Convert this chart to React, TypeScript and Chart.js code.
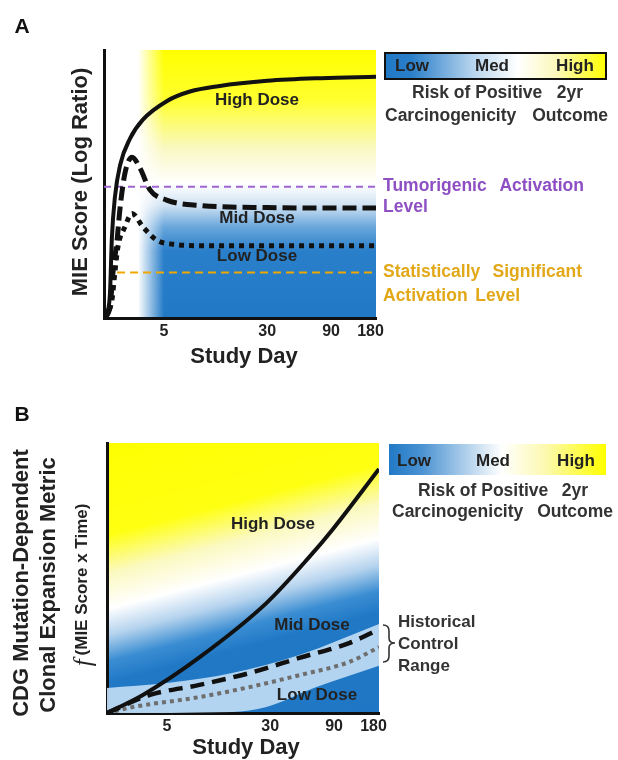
import React, { useEffect, useRef } from "react";
import { Chart, registerables } from "chart.js";
Chart.register(...registerables);

const FONT = '"Liberation Sans", Arial, Helvetica, sans-serif';

// shared x ticks (study day labels at their relative time positions)
const tickPositions = [22, 60, 83.5, 98];
const tickLabels = ["5", "30", "90", "180"];

// Panel A: MIE score curves
const aHighX = [0, 1.2, 2.2, 2.9, 4, 5.9, 9.6, 14.3, 23.2, 31.6, 42, 60, 80, 100];
const aHighY = [0, 2, 9.3, 30, 45, 57, 67, 74, 81, 84.5, 86.5, 88.5, 89.5, 90];
const aMidX = [0, 2.2, 3.3, 4.8, 5.9, 7.7, 10.3, 13.2, 16.9, 23, 35.3, 60, 100];
const aMidY = [0, 4, 17, 29, 41, 54, 60, 56, 47.8, 44, 42, 41.2, 41];
const aLowX = [0, 2.9, 4, 5.1, 7.7, 10.3, 14.3, 19.5, 25.4, 35.3, 60, 100];
const aLowY = [0, 6.7, 17, 26.5, 34, 39, 34, 29, 27.5, 27, 27, 27];
const tumorigenicLevel = 49;
const significantLevel = 17;
const tumorigenicX = [0, 100];
const significantX = [4.8, 100];

// Panel B: clonal expansion curves
const bHighX = [0, 13.2, 34.1, 58.6, 74.4, 82.8, 100];
const bHighY = [0, 6.7, 20.7, 40.7, 57.8, 67.8, 90.4];
const bMidX = [0, 15.8, 34, 52.4, 70.7, 89, 100];
const bMidY = [0, 6.7, 10.4, 14.8, 20.4, 25.9, 31];
const bLowX = [0, 9.5, 34, 52.4, 70.7, 89, 100];
const bLowY = [0, 2.2, 5.9, 9.6, 14, 18.9, 24.4];
const bandUpperX = [0, 22, 46, 70.7, 100];
const bandUpperY = [9.3, 11.1, 14.8, 21.5, 33];
const bandLowerX = [0, 46, 58.6, 77, 100];
const bandLowerY = [0, 0.4, 2.2, 9.6, 17.5];

const pts = (xs: number[], ys: number[]) => xs.map((x, i) => ({ x, y: ys[i] }));
const flat = (xs: number[], v: number) => xs.map((x) => ({ x, y: v }));

function txt(ctx: any, s: string, x: number, y: number, size: number, color: string, align: any = "center", style = "bold", fam = FONT) {
  ctx.save();
  ctx.font = `${style} ${size}px ${fam}`;
  ctx.fillStyle = color;
  ctx.textAlign = align;
  ctx.textBaseline = "middle";
  ctx.fillText(s, x, y);
  ctx.restore();
}
function vtxt(ctx: any, s: string, x: number, y: number, size: number, color: string, style = "bold", fam = FONT, align: any = "center") {
  ctx.save();
  ctx.translate(x, y);
  ctx.rotate(-Math.PI / 2);
  ctx.font = `${style} ${size}px ${fam}`;
  ctx.fillStyle = color;
  ctx.textAlign = align;
  ctx.textBaseline = "middle";
  ctx.fillText(s, 0, 0);
  ctx.restore();
}

const BLUE = "#2179c6";
const lineDs = (data: any[], color: string, width: number, dash: number[] = [], tension = 0.4) => ({
  data,
  borderColor: color,
  borderWidth: width,
  borderDash: dash,
  pointRadius: 0,
  cubicInterpolationMode: "monotone",
  tension,
  fill: false,
  order: 0,
});

function xScale(height: number) {
  return {
    type: "linear",
    min: 0,
    max: 100,
    afterFit: (s: any) => { s.height = height; },
    afterBuildTicks: (s: any) => { s.ticks = tickPositions.map((v) => ({ value: v })); },
    grid: { display: false, drawTicks: false },
    border: { display: true, color: "#111", width: 3 },
    ticks: {
      padding: 4,
      color: "#222",
      font: { family: FONT, size: 16, weight: "bold" },
      callback: (v: number) => tickLabels[tickPositions.indexOf(v)] ?? "",
      autoSkip: false,
      maxRotation: 0,
    },
  };
}
const yScale = {
  type: "linear",
  min: 0,
  max: 100,
  afterFit: (s: any) => { s.width = 0; },
  grid: { display: false, drawTicks: false },
  border: { display: true, color: "#111", width: 3 },
  ticks: { display: false },
};

const panelA = {
  id: "panelA",
  beforeDraw(chart: any) {
    const { ctx, chartArea: a } = chart;
    ctx.save();
    const g = ctx.createLinearGradient(0, a.top, 0, a.bottom);
    g.addColorStop(0, "#ffff00");
    g.addColorStop(0.19, "#ffff30");
    g.addColorStop(0.37, "#f9f8c4");
    g.addColorStop(0.5, "#ffffff");
    g.addColorStop(0.58, "#cfe2f3");
    g.addColorStop(0.66, "#6aa7dc");
    g.addColorStop(0.75, "#2a7fca");
    g.addColorStop(1, BLUE);
    ctx.fillStyle = g;
    ctx.fillRect(a.left, a.top, a.right - a.left, a.bottom - a.top);
    const m = ctx.createLinearGradient(138, 0, 164, 0);
    m.addColorStop(0, "rgba(255,255,255,1)");
    m.addColorStop(1, "rgba(255,255,255,0)");
    ctx.fillStyle = m;
    ctx.fillRect(a.left, a.top, 164 - a.left, a.bottom - a.top);
    ctx.restore();
  },
  afterDraw(chart: any) {
    const ctx = chart.ctx;
    txt(ctx, "A", 22, 27, 21, "#111");
    vtxt(ctx, "MIE Score (Log Ratio)", 81, 182, 22, "#222");
    txt(ctx, "Study Day", 244, 357, 22, "#222");
    txt(ctx, "High Dose", 257, 100, 17, "#222");
    txt(ctx, "Mid Dose", 257, 218, 17, "#222");
    txt(ctx, "Low Dose", 257, 256, 17, "#222");
    // colour bar
    ctx.save();
    const cb = ctx.createLinearGradient(385, 0, 606, 0);
    cb.addColorStop(0, BLUE);
    cb.addColorStop(0.12, "#2a7fca");
    cb.addColorStop(0.4, "#b8d5ee");
    cb.addColorStop(0.6, "#ffffff");
    cb.addColorStop(0.78, "#fbf8b8");
    cb.addColorStop(1, "#ffff00");
    ctx.fillStyle = cb;
    ctx.fillRect(385, 53, 221, 26);
    ctx.strokeStyle = "#111";
    ctx.lineWidth = 2;
    ctx.strokeRect(385, 53, 221, 26);
    ctx.restore();
    txt(ctx, "Low", 412, 66, 17, "#222");
    txt(ctx, "Med", 492, 66, 17, "#222");
    txt(ctx, "High", 575, 66, 17, "#222");
    txt(ctx, "Risk of Positive", 412, 93, 17.5, "#333", "left");
    txt(ctx, "2yr", 583, 93, 17.5, "#333", "right");
    txt(ctx, "Carcinogenicity", 385, 116, 17.5, "#333", "left");
    txt(ctx, "Outcome", 608, 116, 17.5, "#333", "right");
    const P = "#8e4fc3";
    txt(ctx, "Tumorigenic", 383, 186, 17.5, P, "left");
    txt(ctx, "Activation", 584, 186, 17.5, P, "right");
    txt(ctx, "Level", 383, 207, 17.5, P, "left");
    const O = "#e2a818";
    txt(ctx, "Statistically", 383, 272, 17.5, O, "left");
    txt(ctx, "Significant", 582, 272, 17.5, O, "right");
    txt(ctx, "Activation", 383, 296, 17.5, O, "left");
    txt(ctx, "Level", 520, 296, 17.5, O, "right");
  },
};

const OFF = 380;
const panelB = {
  id: "panelB",
  beforeDraw(chart: any) {
    const { ctx, chartArea: a } = chart;
    ctx.save();
    const dx = 0.251, dy = 0.968;
    const sx = 243 - dx * 40, sy = a.top - dy * 40;
    const g = ctx.createLinearGradient(sx, sy, sx + dx * 340, sy + dy * 340);
    g.addColorStop(0, "#ffff00");
    g.addColorStop(0.28, "#ffff12");
    g.addColorStop(0.39, "#fbf9c0");
    g.addColorStop(0.49, "#ffffff");
    g.addColorStop(0.565, "#b5d3ee");
    g.addColorStop(0.64, "#3a8dd2");
    g.addColorStop(0.7, BLUE);
    g.addColorStop(1, "#1f76c4");
    ctx.fillStyle = g;
    ctx.fillRect(a.left, a.top, a.right - a.left, a.bottom - a.top);
    ctx.restore();
  },
  afterDraw(chart: any) {
    const ctx = chart.ctx;
    const y = (v: number) => v - OFF;
    txt(ctx, "B", 22, y(415), 21, "#111");
    vtxt(ctx, "CDG Mutation-Dependent", 22, y(583), 22, "#222");
    vtxt(ctx, "Clonal Expansion Metric", 49, y(585), 22, "#222");
    // f (MIE Score x Time)
    const sub = 17;
    const serif = '"Liberation Serif", "DejaVu Serif", serif';
    ctx.save();
    ctx.font = `bold ${sub}px ${FONT}`;
    const w1 = ctx.measureText("(MIE Score x Time)").width;
    ctx.font = `italic 25px ${serif}`;
    const w2 = ctx.measureText("f").width + 4;
    ctx.restore();
    const total = w1 + w2;
    const startY = 585 + total / 2;
    vtxt(ctx, "f", 84, y(startY), 25, "#222", "italic", serif, "left");
    vtxt(ctx, "(MIE Score x Time)", 82, y(startY - w2), sub, "#222", "bold", FONT, "left");
    txt(ctx, "Study Day", 246, y(748), 22, "#222");
    txt(ctx, "High Dose", 273, y(524), 17, "#222");
    txt(ctx, "Mid Dose", 312, y(625), 17, "#222");
    txt(ctx, "Low Dose", 317, y(695), 17, "#222");
    ctx.save();
    const cb = ctx.createLinearGradient(389, 0, 606, 0);
    cb.addColorStop(0, BLUE);
    cb.addColorStop(0.15, "#4a92d2");
    cb.addColorStop(0.38, "#bcd7ee");
    cb.addColorStop(0.52, "#ffffff");
    cb.addColorStop(0.72, "#fcf9b0");
    cb.addColorStop(1, "#ffff00");
    ctx.fillStyle = cb;
    ctx.fillRect(389, y(444), 217, 31);
    ctx.restore();
    txt(ctx, "Low", 414, y(461), 17, "#222");
    txt(ctx, "Med", 493, y(461), 17, "#222");
    txt(ctx, "High", 576, y(461), 17, "#222");
    txt(ctx, "Risk of Positive", 418, y(491), 17.5, "#333", "left");
    txt(ctx, "2yr", 588, y(491), 17.5, "#333", "right");
    txt(ctx, "Carcinogenicity", 392, y(512), 17.5, "#333", "left");
    txt(ctx, "Outcome", 613, y(512), 17.5, "#333", "right");
    // brace
    ctx.save();
    ctx.strokeStyle = "#333";
    ctx.lineWidth = 1.6;
    ctx.beginPath();
    const t = y(625), b = y(662), mid = y(643);
    ctx.moveTo(383, t);
    ctx.quadraticCurveTo(389, t, 389, t + 6);
    ctx.lineTo(389, mid - 5);
    ctx.quadraticCurveTo(389, mid, 395, mid);
    ctx.quadraticCurveTo(389, mid, 389, mid + 5);
    ctx.lineTo(389, b - 6);
    ctx.quadraticCurveTo(389, b, 383, b);
    ctx.stroke();
    ctx.restore();
    txt(ctx, "Historical", 398, y(622), 17, "#333", "left");
    txt(ctx, "Control", 398, y(644), 17, "#333", "left");
    txt(ctx, "Range", 398, y(666), 17, "#333", "left");
  },
};

export default function App() {
  const refA = useRef<HTMLCanvasElement>(null);
  const refB = useRef<HTMLCanvasElement>(null);
  useEffect(() => {
    const chartA = new Chart(refA.current as any, {
      type: "line",
      data: {
        datasets: [
          lineDs(pts(aHighX, aHighY), "#111", 4),
          lineDs(pts(aMidX, aMidY), "#111", 5, [14, 6]),
          lineDs(pts(aLowX, aLowY), "#111", 5, [5, 5]),
          { ...lineDs(flat(tumorigenicX, tumorigenicLevel), "#a066d3", 2, [7, 5]), cubicInterpolationMode: "default", tension: 0 },
          { ...lineDs(flat(significantX, significantLevel), "#f0a800", 2, [8, 5]), cubicInterpolationMode: "default", tension: 0 },
        ],
      } as any,
      options: {
        responsive: false,
        animation: false,
        events: [],
        layout: { padding: { left: 104, top: 50, right: 242, bottom: 0 } },
        plugins: { legend: { display: false }, tooltip: { enabled: false } },
        scales: { x: xScale(62), y: yScale },
      } as any,
      plugins: [panelA],
    });
    const chartB = new Chart(refB.current as any, {
      type: "line",
      data: {
        datasets: [
          lineDs(pts(bHighX, bHighY), "#111", 4),
          lineDs(pts(bMidX, bMidY), "#111", 4.5, [14, 8]),
          lineDs(pts(bLowX, bLowY), "#6e6e6e", 4, [4, 4]),
          {
            data: pts(bandUpperX, bandUpperY),
            borderWidth: 0,
            pointRadius: 0,
            cubicInterpolationMode: "monotone",
            backgroundColor: "rgba(190,220,243,0.93)",
            fill: "+1",
            order: 10,
          },
          {
            data: pts(bandLowerX, bandLowerY),
            borderWidth: 0,
            pointRadius: 0,
            cubicInterpolationMode: "monotone",
            fill: false,
            order: 11,
          },
        ],
      } as any,
      options: {
        responsive: false,
        animation: false,
        events: [],
        layout: { padding: { left: 107, top: 63, right: 239, bottom: 0 } },
        plugins: { legend: { display: false }, tooltip: { enabled: false } },
        scales: { x: xScale(47), y: yScale },
      } as any,
      plugins: [panelB],
    });
    return () => {
      chartA.destroy();
      chartB.destroy();
    };
  }, []);
  return (
    <div style={{ position: "absolute", left: 0, top: 0, width: 618, height: 760, background: "#fff" }}>
      <canvas ref={refA} width={618} height={380} style={{ position: "absolute", left: 0, top: 0 }} />
      <canvas ref={refB} width={618} height={380} style={{ position: "absolute", left: 0, top: 380 }} />
    </div>
  );
}
